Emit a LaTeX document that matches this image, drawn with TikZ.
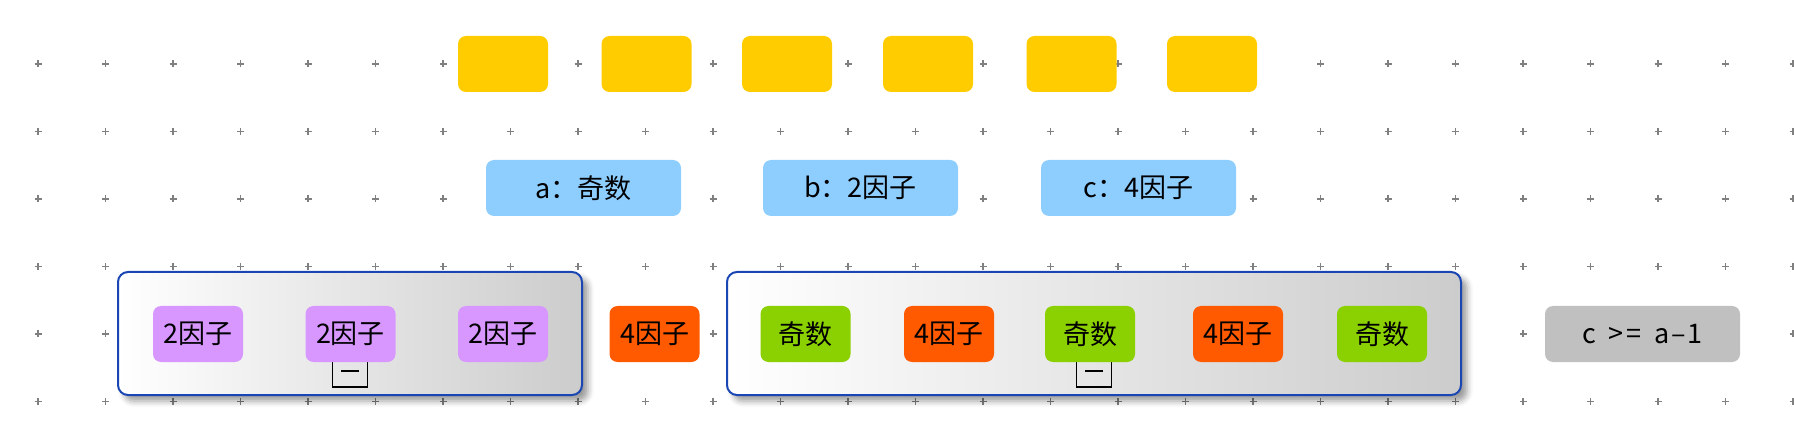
\documentclass[tikz,border=0pt]{standalone}
\usepackage{fontspec}
\setmainfont{Noto Sans CJK SC}
\usetikzlibrary{shadows.blur}

\definecolor{tileyellow}{HTML}{FFCC00}
\definecolor{tileblue}{HTML}{8ECEFF}
\definecolor{tilepurple}{HTML}{D897FF}
\definecolor{tileorange}{HTML}{FF5A00}
\definecolor{tilegreen}{HTML}{8BD000}
\definecolor{tilegray}{HTML}{C0C0C0}
\definecolor{grpline}{HTML}{1A46B4}
\definecolor{dotgray}{HTML}{808080}

\tikzset{
	tile/.style={rounded corners=4pt, minimum width=45pt, minimum height=28pt, inner sep=0pt, font=\fontsize{13.5}{16}\selectfont},
	widetile/.style={tile, minimum width=97.5pt},
	grp/.style={draw=grpline, line width=1pt, rounded corners=5pt, minimum height=61.5pt, left color=white, right color=black!20,
		blur shadow={shadow xshift=3pt, shadow yshift=-3pt, shadow blur radius=3pt, shadow opacity=40}},
	fold/.style={draw=black, line width=0.8pt, minimum size=17.5pt, inner sep=0pt},
}

\begin{document}
\begin{tikzpicture}[x=0.5pt, y=-0.5pt]
			%%%%% START %%%%%
			
			\useasboundingbox (0, 0) rectangle (1794, 438);
			
			% dot grid
			\foreach \i in {0,...,26} {
				\foreach \j in {0,...,5} {
					\draw[dotgray, line width=0.9pt] (38+67.5*\i-3.5, 64+67.5*\j) -- ++(7, 0);
					\draw[dotgray, line width=0.9pt] (38+67.5*\i, 64+67.5*\j-3.5) -- ++(0, 7);
				}
			}
			
			% top row
			\node[tile, fill=tileyellow] (y1) at (503, 64) {};
			\node[tile, fill=tileyellow] (y2) at (646.5, 64) {};
			\node[tile, fill=tileyellow] (y3) at (787, 64) {};
			\node[tile, fill=tileyellow] (y4) at (928, 64) {};
			\node[tile, fill=tileyellow] (y5) at (1071.5, 64) {};
			\node[tile, fill=tileyellow] (y6) at (1212, 64) {};
			
			% variables
			\node[widetile, fill=tileblue] (va) at (583.5, 188) {a：奇数};
			\node[widetile, fill=tileblue] (vb) at (860.5, 188) {b：2因子};
			\node[widetile, fill=tileblue] (vc) at (1138.5, 188) {c：4因子};
			
			% groups
			\node[grp, minimum width=232pt] (grpA) at (350, 333.5) {};
			\node[grp, minimum width=367pt] (grpB) at (1094, 333.5) {};
			
			\node[fold] (foldA) at (350, 369.5) {};
			\draw[line width=0.6pt] ([xshift=-4.5pt, yshift=-0.75pt]foldA.center) -- ([xshift=4.5pt, yshift=-0.75pt]foldA.center);
			\node[fold] (foldB) at (1094, 369.5) {};
			\draw[line width=0.6pt] ([xshift=-4.5pt, yshift=-0.75pt]foldB.center) -- ([xshift=4.5pt, yshift=-0.75pt]foldB.center);
			
			% bottom row
			\node[tile, fill=tilepurple] (p1) at (198, 334) {2因子};
			\node[tile, fill=tilepurple] (p2) at (350.5, 334) {2因子};
			\node[tile, fill=tilepurple] (p3) at (503, 334) {2因子};
			
			\node[tile, fill=tileorange] (m1) at (654.5, 334) {4因子};
			
			\node[tile, fill=tilegreen] (q1) at (805.5, 334) {奇数};
			\node[tile, fill=tileorange] (q2) at (949, 334) {4因子};
			\node[tile, fill=tilegreen] (q3) at (1090, 334) {奇数};
			\node[tile, fill=tileorange] (q4) at (1238, 334) {4因子};
			\node[tile, fill=tilegreen] (q5) at (1382, 334) {奇数};
			
			\node[widetile, fill=tilegray] (cond) at (1642.5, 334) {c\hspace{0.42em}>\hspace{0.12em}=\hspace{0.5em}a\hspace{0.05em}–\hspace{0.05em}1};
			
			%%%%% END %%%%%
\end{tikzpicture}
\end{document}
